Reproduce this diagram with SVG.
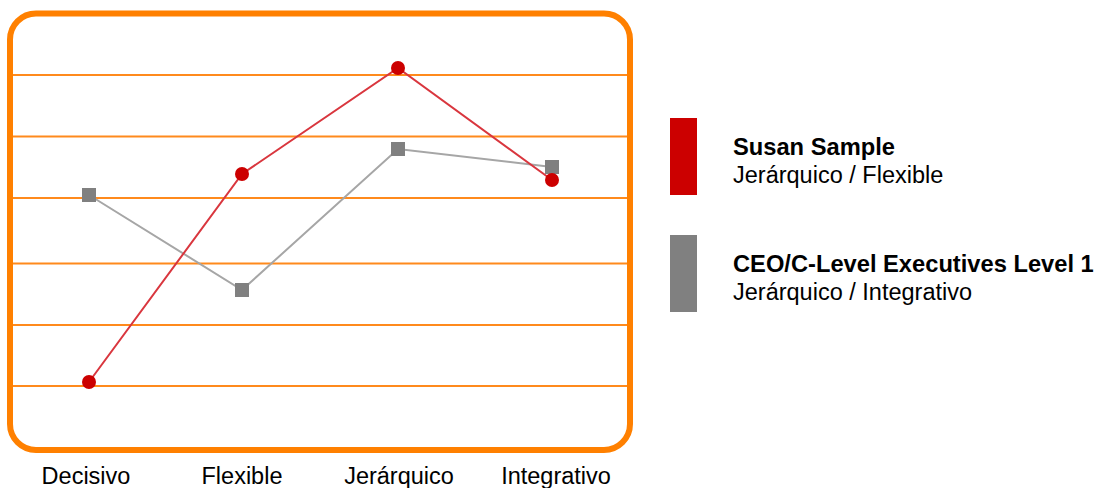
<svg xmlns="http://www.w3.org/2000/svg" width="1097" height="488" viewBox="0 0 1097 488">
<style>
.grid{stroke:#ff8a1c;stroke-width:2}
.frame{fill:none;stroke:#ff8000;stroke-width:6}
.rl{fill:none;stroke:#d9363e;stroke-width:2}
.gl{fill:none;stroke:#a6a6a6;stroke-width:2}
.rd{fill:#cc0000}
.gs{fill:#808080}
text{font-family:"Liberation Sans",Arial,sans-serif;font-size:23.5px;fill:#000}
.b{font-weight:bold;font-size:23.7px}
</style>
<rect width="1097" height="488" fill="#fff"/>
<g id="chart">
<g id="grid">
<line class="grid" x1="13" y1="75" x2="627" y2="75"/>
<line class="grid" x1="13" y1="136.5" x2="627" y2="136.5"/>
<line class="grid" x1="13" y1="198" x2="627" y2="198"/>
<line class="grid" x1="13" y1="263.5" x2="627" y2="263.5"/>
<line class="grid" x1="13" y1="325" x2="627" y2="325"/>
<line class="grid" x1="13" y1="386" x2="627" y2="386"/>
</g>
<rect class="frame" x="10" y="13.5" width="620" height="436.5" rx="26"/>
</g>
<g id="connectors">
<polyline class="gl" points="89,195 242,290 398,149 552,167"/>
<polyline class="rl" points="89,382 242,174 398,68 552,180"/>
</g>
<g id="series-ceo">
<rect class="gs" x="82" y="188" width="14" height="14"/>
<rect class="gs" x="235" y="283" width="14" height="14"/>
<rect class="gs" x="391" y="142" width="14" height="14"/>
<rect class="gs" x="545" y="160" width="14" height="14"/>
</g>
<g id="series-susan">
<circle class="rd" cx="89" cy="382" r="7"/>
<circle class="rd" cx="242" cy="174" r="7"/>
<circle class="rd" cx="398" cy="68" r="7"/>
<circle class="rd" cx="552" cy="180" r="7"/>
</g>
<g id="axis-labels">
<text x="86" y="484" text-anchor="middle">Decisivo</text>
<text x="242" y="484" text-anchor="middle">Flexible</text>
<text x="399" y="484" text-anchor="middle">Jerárquico</text>
<text x="556" y="484" text-anchor="middle">Integrativo</text>
</g>
<g id="legend-susan">
<rect x="670" y="118" width="27" height="77" fill="#cc0000"/>
<text class="b" x="733" y="155">Susan Sample</text>
<text x="733" y="183">Jerárquico / Flexible</text>
</g>
<g id="legend-ceo">
<rect x="670" y="235" width="27" height="77" fill="#808080"/>
<text class="b" x="733" y="272">CEO/C-Level Executives Level 1</text>
<text x="733" y="300">Jerárquico / Integrativo</text>
</g>
</svg>
